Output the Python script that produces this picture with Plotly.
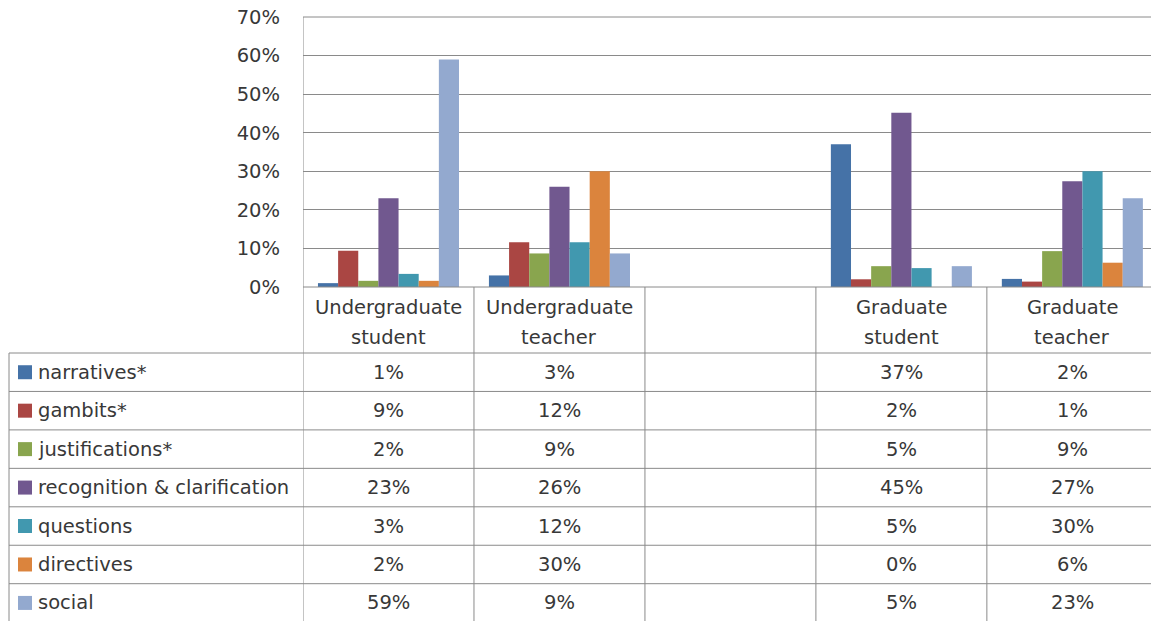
import plotly.graph_objects as go

W, H = 1151, 621

categories = ["Undergraduate student", "Undergraduate teacher", "", "Graduate student", "Graduate teacher"]
header_lines = [["Undergraduate", "student"], ["Undergraduate", "teacher"], ["", ""], ["Graduate", "student"], ["Graduate", "teacher"]]
series_names = ["narratives*", "gambits*", "justifications*", "recognition & clarification",
                "questions", "directives", "social"]

# values per series for the 5 columns (None = empty column)
narratives = [0.010, 0.030, None, 0.370, 0.021]
gambits = [0.094, 0.116, None, 0.020, 0.014]
justifications = [0.016, 0.087, None, 0.054, 0.093]
recognition = [0.230, 0.260, None, 0.452, 0.274]
questions = [0.034, 0.116, None, 0.049, 0.300]
directives = [0.016, 0.300, None, 0.000, 0.063]
social = [0.590, 0.087, None, 0.054, 0.230]

series_values = [narratives, gambits, justifications, recognition, questions, directives, social]
colors = ["#4572A7", "#AA4643", "#89A54E", "#71588F", "#4198AF", "#DB843D", "#93A9CF"]

FONT = "DejaVu Sans"
TXT = "#383838"
LINE = "#8a8a8a"
FS = 19.5

def px(x):
    return x / W

def py(y):
    return 1 - y / H

plot_top, plot_bot, plot_left = 17, 287, 303
xpos = list(range(len(categories)))

fig = go.Figure()
for name, vals, col in zip(series_names, series_values, colors):
    xs = [x for x, v in zip(xpos, vals) if v is not None]
    ys = [v for v in vals if v is not None]
    fig.add_trace(go.Bar(x=xs, y=ys, name=name, marker=dict(color=col, line=dict(width=0)),
                         hoverinfo="name+y"))

shapes = []
ann = []

# plot border lines
shapes.append(dict(type="line", xref="paper", yref="paper", x0=px(plot_left), x1=1,
                   y0=py(plot_top), y1=py(plot_top), line=dict(color=LINE, width=1)))
shapes.append(dict(type="line", xref="paper", yref="paper", x0=px(plot_left), x1=1,
                   y0=py(plot_bot), y1=py(plot_bot), line=dict(color=LINE, width=1)))
shapes.append(dict(type="line", xref="x", yref="paper", x0=-0.5, x1=-0.5,
                   y0=py(plot_top), y1=-0.02, line=dict(color=LINE, width=1)))
for b in [0.5, 1.5, 2.5, 3.5]:
    shapes.append(dict(type="line", xref="x", yref="paper", x0=b, x1=b,
                       y0=py(plot_bot), y1=-0.02, line=dict(color=LINE, width=1)))

# table rows
row_top = 353
row_h = 38.45
tbl_left = 9
for i in range(len(series_names) + 1):
    y = row_top + i * row_h
    if y < H:
        shapes.append(dict(type="line", xref="paper", yref="paper", x0=px(tbl_left), x1=1,
                           y0=py(y), y1=py(y), line=dict(color=LINE, width=1)))
shapes.append(dict(type="line", xref="paper", yref="paper", x0=px(tbl_left), x1=px(tbl_left),
                   y0=py(row_top), y1=-0.02, line=dict(color=LINE, width=1)))

# header labels
for ci, lines in enumerate(header_lines):
    for li, t in enumerate(lines):
        if t:
            ann.append(dict(xref="x", yref="paper", x=ci, y=py(307 + li * 30), text=t,
                            showarrow=False, xanchor="center", yanchor="middle",
                            font=dict(family=FONT, size=FS, color=TXT)))

# rows
for ri, (name, vals, col) in enumerate(zip(series_names, series_values, colors)):
    yc = row_top + ri * row_h + row_h / 2
    shapes.append(dict(type="rect", xref="paper", yref="paper", x0=px(18), x1=px(32),
                       y0=py(yc - 7), y1=py(yc + 7), fillcolor=col, line=dict(width=0)))
    ann.append(dict(xref="paper", yref="paper", x=px(36), y=py(yc), text=name,
                    showarrow=False, xanchor="left", yanchor="middle",
                    font=dict(family=FONT, size=FS, color=TXT)))
    for ci, v in enumerate(vals):
        if v is not None:
            ann.append(dict(xref="x", yref="paper", x=ci, y=py(yc), text=f"{v:.0%}",
                            showarrow=False, xanchor="center", yanchor="middle",
                            font=dict(family=FONT, size=FS, color=TXT)))

fig.update_layout(
    width=W, height=H,
    margin=dict(l=0, r=0, t=0, b=0, pad=0, autoexpand=False),
    paper_bgcolor="white", plot_bgcolor="white",
    barmode="group", bargap=0.175, bargroupgap=0,
    showlegend=False,
    shapes=shapes, annotations=ann,
    xaxis=dict(domain=[px(plot_left), 1], range=[-0.5, 4.46], showticklabels=False,
               showgrid=False, zeroline=False, showline=False, fixedrange=True,
               automargin=False),
    yaxis=dict(domain=[py(plot_bot), py(plot_top)], range=[0, 0.7], dtick=0.1,
               tickformat=".0%", showgrid=True, gridcolor=LINE, gridwidth=1,
               zeroline=False, showline=False, ticks="", ticklabelstandoff=22,
               tickfont=dict(family=FONT, size=FS, color=TXT), fixedrange=True,
               automargin=False),
)

fig.write_html("out.html")
